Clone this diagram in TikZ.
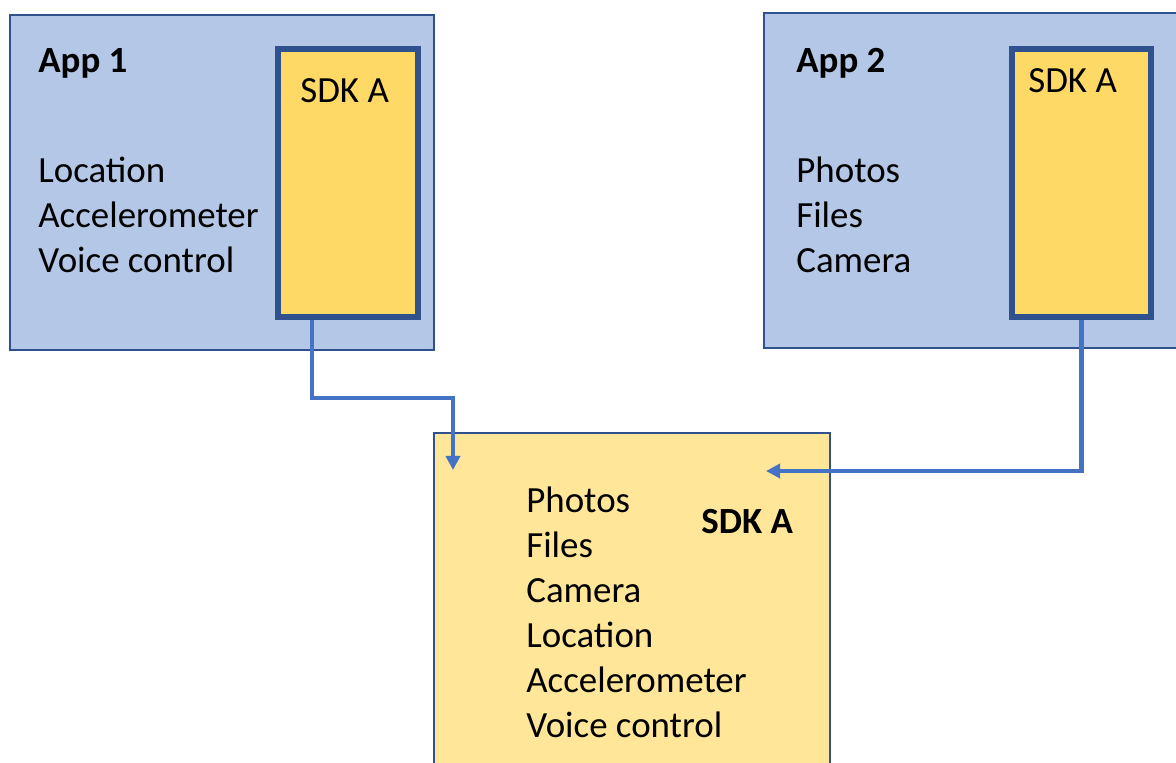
\documentclass[tikz,border=0pt]{standalone}
\usepackage{fontspec}
\setmainfont{Carlito}
\usepackage{tikz}
\usetikzlibrary{arrows.meta, positioning}
\definecolor{appfill}{HTML}{B4C7E7}
\definecolor{sdkfill}{HTML}{FFD966}
\definecolor{poolfill}{HTML}{FFE699}
\definecolor{edgeblue}{HTML}{2F528F}
\definecolor{flowblue}{HTML}{4472C4}

\begin{document}
\begin{tikzpicture}[x=0.02cm, y=-0.02cm,
    appbox/.style={draw=edgeblue, line width=1.1pt, fill=appfill, minimum width=8.48cm, minimum height=6.7cm},
    sdkbox/.style={draw=edgeblue, line width=3.4pt, fill=sdkfill, minimum width=2.8cm, minimum height=5.36cm},
    poolbox/.style={draw=edgeblue, line width=1pt, fill=poolfill, minimum width=7.92cm, minimum height=7.14cm},
    item/.style={anchor=base west, inner sep=0pt, font=\fontsize{21}{25}\selectfont},
    head/.style={item, font=\fontsize{21}{25}\selectfont\bfseries},
    flow/.style={draw=flowblue, line width=2.8pt, -{Triangle[length=8pt, width=8pt]}}
]
    \useasboundingbox (0,0) rectangle (1176,762);
    \clip (0,0) rectangle (1176,762);

    % App 1
    \node[appbox] (app1) at (222,182.5) {};
    \node[sdkbox] (sdk1) at (348,183) {};
    \node[head] (app1lbl) at (38,72) {App 1};
    \node[item] (sdk1lbl) at (300,102) {SDK A};
    \foreach \txt [count=\i] in {Location, Accelerometer, Voice control}
        \node[item] (perm1\i) at (38,137+45*\i) {\txt};

    % App 2
    \node[appbox, minimum width=8.52cm] (app2) at (977,180.5) {};
    \node[sdkbox, minimum width=2.78cm] (sdk2) at (1081.5,183) {};
    \node[head] (app2lbl) at (796,72) {App 2};
    \node[item] (sdk2lbl) at (1028,92) {SDK A};
    \foreach \txt [count=\i] in {Photos, Files, Camera}
        \node[item] (perm2\i) at (796,137+45*\i) {\txt};

    % Shared SDK A
    \node[poolbox] (pool) at (632,611.5) {};
    \node[head] (poollbl) at (701,533) {SDK A};
    \foreach \txt [count=\i] in {Photos, Files, Camera, Location, Accelerometer, Voice control}
        \node[item] (perm3\i) at (526,467+45*\i) {\txt};

    % Flows
    \coordinate (in1) at (453,470);
    \coordinate (in2) at (766,471);
    \draw[flow] ([xshift=-0.72cm]sdk1.south) -- ++(0,78) -| (in1);
    \draw[flow] (sdk2.south) |- (in2);
\end{tikzpicture}
\end{document}
